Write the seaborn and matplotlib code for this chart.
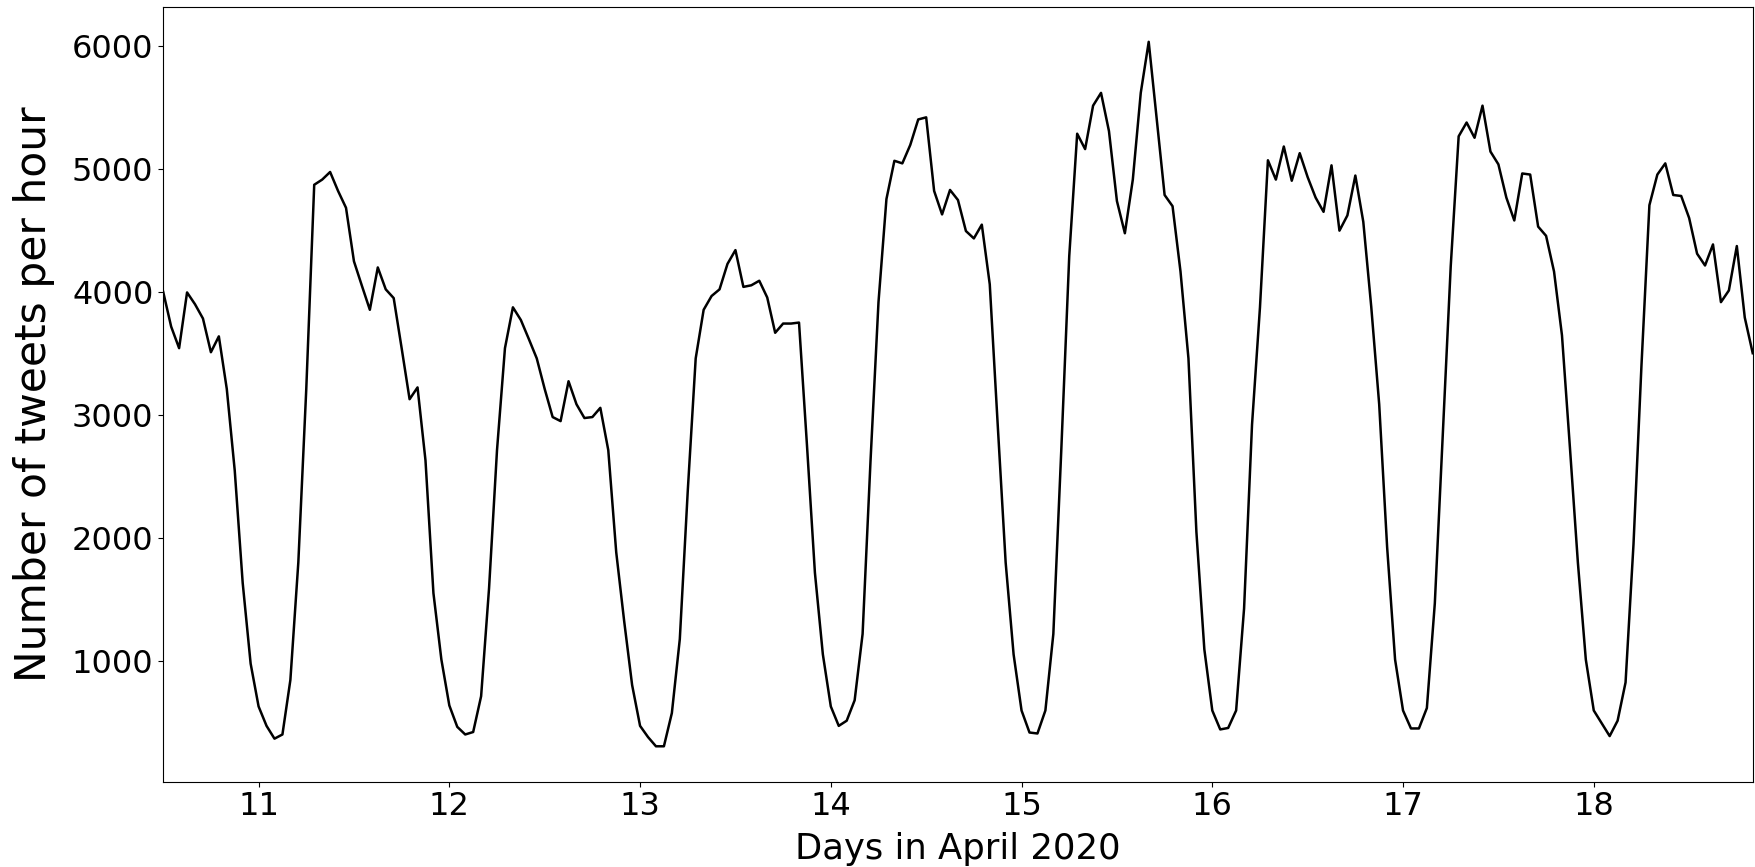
import numpy as np
import pandas as pd
import matplotlib
matplotlib.use("Agg")
import matplotlib.pyplot as plt
import seaborn as sns

# Hourly tweet counts, starting 10 April 2020 12:00
start_day = 10.5
tweets = [
    4000, 3718, 3543, 3996, 3900, 3784, 3510, 3639, 3211, 2548,
    1635, 979, 631, 473, 369, 403, 846, 1801, 3211, 4871,
    4913, 4975, 4821, 4684, 4249, 4050, 3855, 4199, 4021, 3950,
    3543, 3128, 3224, 2631, 1552, 1012, 639, 465, 403, 423,
    714, 1593, 2714, 3543, 3875, 3772, 3618, 3460, 3211, 2983,
    2950, 3274, 3087, 2975, 2983, 3058, 2714, 1884, 1324, 805,
    473, 382, 307, 307, 577, 1178, 2382, 3460, 3855, 3967,
    4021, 4228, 4340, 4041, 4054, 4091, 3955, 3668, 3743, 3743,
    3751, 2755, 1718, 1054, 631, 473, 515, 681, 1220, 2631,
    3917, 4755, 5066, 5045, 5195, 5402, 5419, 4821, 4630, 4829,
    4747, 4495, 4435, 4547, 4062, 2921, 1801, 1054, 598, 419,
    411, 598, 1220, 2714, 4290, 5286, 5161, 5514, 5618, 5307,
    4739, 4477, 4913, 5618, 6033, 5410, 4788, 4697, 4166, 3460,
    2050, 1095, 598, 444, 456, 598, 1427, 2921, 3875, 5070,
    4913, 5182, 4904, 5128, 4933, 4767, 4651, 5029, 4498, 4622,
    4946, 4570, 3880, 3087, 1925, 1012, 598, 452, 452, 618,
    1469, 2838, 4207, 5265, 5377, 5253, 5514, 5141, 5037, 4767,
    4581, 4963, 4954, 4531, 4456, 4166, 3647, 2735, 1801, 1012,
    598, 494, 390, 515, 826, 1950, 3400, 4705, 4954, 5045,
    4788, 4780, 4601, 4311, 4215, 4386, 3917, 4012, 4373, 3792,
    3502,
]
hours = np.arange(len(tweets))
days = start_day + hours / 24.0

x_ticks = [11, 12, 13, 14, 15, 16, 17, 18]
y_ticks = [1000, 2000, 3000, 4000, 5000, 6000]
x_label = "Days in April 2020"
y_label = "Number of tweets per hour"

df = pd.DataFrame({"day": days, "tweets": tweets})

fig = plt.figure(figsize=(17.55, 8.67), dpi=100)
ax = fig.add_axes([0.093, 0.0986, 0.9057, 0.8938])

sns.lineplot(data=df, x="day", y="tweets", ax=ax, color="black", linewidth=1.8)

ax.set_xlim(days[0], days[-1])
ax.set_xticks(x_ticks)
ax.set_xticklabels([str(t) for t in x_ticks])
ax.set_yticks(y_ticks)
ax.tick_params(axis="both", labelsize=23)
ax.set_xlabel(x_label, fontsize=25.5, labelpad=7)
ax.set_ylabel(y_label, fontsize=30.5, labelpad=12)

fig.savefig("out.png", dpi=100)
